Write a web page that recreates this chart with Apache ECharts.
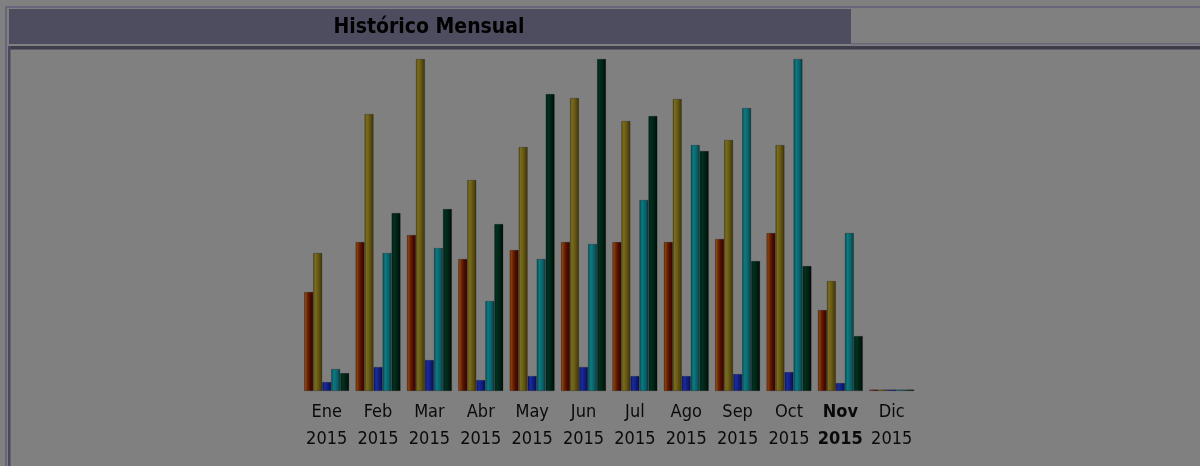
<!DOCTYPE html>
<html>
<head>
<meta charset="utf-8">
<script src="https://cdn.jsdelivr.net/npm/echarts@6/dist/echarts.min.js"></script>
<style>
html,body{margin:0;padding:0;background:#808080;}
#c{width:1200px;height:466px;}
</style>
</head>
<body>
<div id="c"></div>
<script>
const title = 'Histórico Mensual';
const months = ['Ene','Feb','Mar','Abr','May','Jun','Jul','Ago','Sep','Oct','Nov','Dic'];
const yearLabel = '2015';
const highlightMonth = 'Nov';
const seriesOrange = [99,149,156,132,141,149,149,149,152,158,81,1.5];
const seriesOlive  = [138,277,332,211,244,293,270,292,251,246,110,1.5];
const seriesBlue   = [9,24,31,11,15,24,15,15,17,19,8,1.5];
const seriesTeal   = [22,138,143,90,132,147,191,246,283,332,158,1.5];
const seriesGreen  = [18,178,182,167,297,332,275,240,130,125,55,1.5];

function grad(stops){
  return new echarts.graphic.LinearGradient(0,0,1,0, stops.map(s=>({offset:s[0],color:s[1]})));
}
const colors = [
  grad([[0,'#5a1a00'],[0.15,'#8a4410'],[0.4,'#682200'],[0.7,'#4a0a00'],[1,'#360600']]),
  grad([[0,'#4e420a'],[0.2,'#7a6c1c'],[0.5,'#6a5c14'],[1,'#3e3206']]),
  grad([[0,'#0a1460'],[0.3,'#1a2c9a'],[0.7,'#0e1a78'],[1,'#081050']]),
  grad([[0,'#064a50'],[0.3,'#0c7a82'],[0.7,'#0a5e66'],[1,'#043a3e']]),
  grad([[0,'#00221a'],[0.3,'#00301e'],[1,'#000e08']])
];
const data = [seriesOrange, seriesOlive, seriesBlue, seriesTeal, seriesGreen];
const FONT = '"DejaVu Sans Condensed","DejaVu Sans",sans-serif';

const chart = echarts.init(document.getElementById('c'), null, {renderer:'canvas'});
chart.setOption({
  backgroundColor:'#808080',
  animation:false,
  graphic:[
    {type:'rect', shape:{x:6,y:7,width:1200,height:470}, style:{fill:'#808080', stroke:'#66657c', lineWidth:2}},
    {type:'rect', shape:{x:9,y:9,width:842,height:35}, style:{fill:'#4e4d5f'}},
    {type:'rect', shape:{x:851,y:43,width:360,height:1.5}, style:{fill:'#67667a'}},
    {type:'rect', shape:{x:8,y:46,width:1200,height:3.5}, style:{fill:'#3e3d4c'}},
    {type:'rect', shape:{x:8,y:46,width:2.5,height:430}, style:{fill:'#4a495c'}},
    {type:'text', x:429, y:28, style:{text:title, fill:'#000', font:'bold 21px '+FONT, textAlign:'center', textVerticalAlign:'middle'}}
  ],
  grid:{left:301, right:282.6, top:59, bottom:75},
  xAxis:{
    type:'category', data:months,
    axisLine:{show:false}, axisTick:{show:false},
    axisLabel:{
      interval:0, margin:8,
      formatter:(v)=> v===highlightMonth ? '{b|'+v+'}\n{b|'+yearLabel+'}' : '{n|'+v+'}\n{n|'+yearLabel+'}',
      rich:{
        n:{fontFamily:FONT, fontSize:18, color:'#0a0a0a', lineHeight:27},
        b:{fontFamily:FONT, fontSize:18, fontWeight:'bold', color:'#0a0a0a', lineHeight:27}
      }
    }
  },
  yAxis:{type:'value', min:0, max:332, show:false, splitLine:{show:false}},
  series: data.map((d,i)=>({
    type:'bar', data:d, barGap:'0%', barCategoryGap:'12.4%',
    itemStyle:{color:colors[i], borderColor:'rgba(0,0,0,0.35)', borderWidth:0.6},
    emphasis:{disabled:true}
  }))
});
</script>
</body>
</html>
